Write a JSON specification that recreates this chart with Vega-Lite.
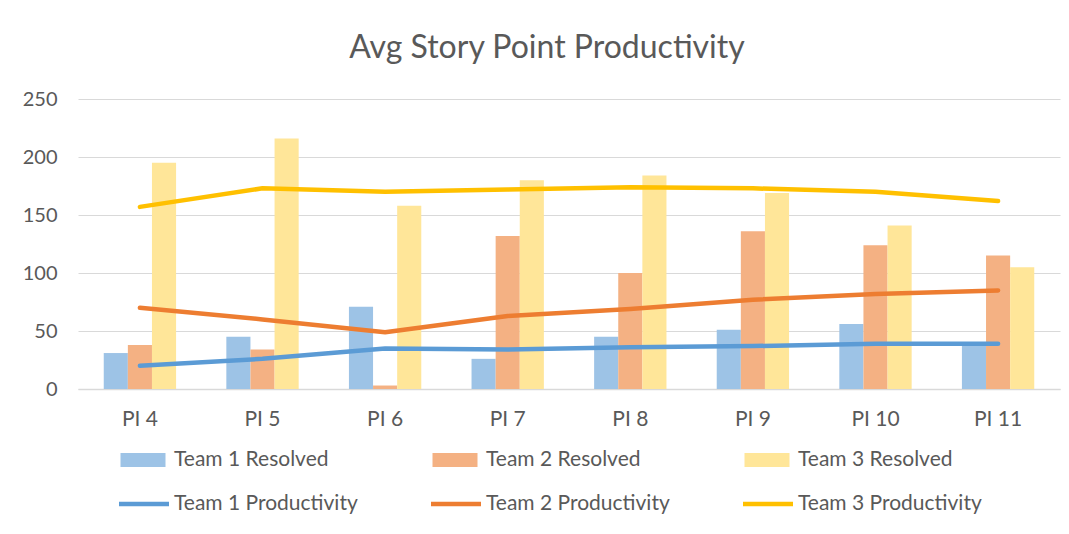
{
  "$schema": "https://vega.github.io/schema/vega-lite/v6.json",
  "width": 982,
  "height": 290,
  "autosize": {"type": "none"},
  "padding": {"left": 78, "top": 99, "right": 9, "bottom": 145},
  "background": "white",
  "title": {
    "text": "Avg Story Point Productivity",
    "font": "Lato",
    "fontSize": 32,
    "fontWeight": "normal",
    "color": "#595959",
    "anchor": "middle",
    "frame": "group",
    "baseline": "alphabetic",
    "offset": -1,
    "dx": -22
  },
  "datasets": {
    "resolved": [
      {"pi": "PI 4", "series": "Team 1 Resolved", "value": 31},
      {"pi": "PI 4", "series": "Team 2 Resolved", "value": 38},
      {"pi": "PI 4", "series": "Team 3 Resolved", "value": 195},
      {"pi": "PI 5", "series": "Team 1 Resolved", "value": 45},
      {"pi": "PI 5", "series": "Team 2 Resolved", "value": 34},
      {"pi": "PI 5", "series": "Team 3 Resolved", "value": 216},
      {"pi": "PI 6", "series": "Team 1 Resolved", "value": 71},
      {"pi": "PI 6", "series": "Team 2 Resolved", "value": 3},
      {"pi": "PI 6", "series": "Team 3 Resolved", "value": 158},
      {"pi": "PI 7", "series": "Team 1 Resolved", "value": 26},
      {"pi": "PI 7", "series": "Team 2 Resolved", "value": 132},
      {"pi": "PI 7", "series": "Team 3 Resolved", "value": 180},
      {"pi": "PI 8", "series": "Team 1 Resolved", "value": 45},
      {"pi": "PI 8", "series": "Team 2 Resolved", "value": 100},
      {"pi": "PI 8", "series": "Team 3 Resolved", "value": 184},
      {"pi": "PI 9", "series": "Team 1 Resolved", "value": 51},
      {"pi": "PI 9", "series": "Team 2 Resolved", "value": 136},
      {"pi": "PI 9", "series": "Team 3 Resolved", "value": 169},
      {"pi": "PI 10", "series": "Team 1 Resolved", "value": 56},
      {"pi": "PI 10", "series": "Team 2 Resolved", "value": 124},
      {"pi": "PI 10", "series": "Team 3 Resolved", "value": 141},
      {"pi": "PI 11", "series": "Team 1 Resolved", "value": 38},
      {"pi": "PI 11", "series": "Team 2 Resolved", "value": 115},
      {"pi": "PI 11", "series": "Team 3 Resolved", "value": 105}
    ],
    "productivity": [
      {"pi": "PI 4", "series": "Team 1 Productivity", "value": 20},
      {"pi": "PI 5", "series": "Team 1 Productivity", "value": 26},
      {"pi": "PI 6", "series": "Team 1 Productivity", "value": 35},
      {"pi": "PI 7", "series": "Team 1 Productivity", "value": 34},
      {"pi": "PI 8", "series": "Team 1 Productivity", "value": 36},
      {"pi": "PI 9", "series": "Team 1 Productivity", "value": 37},
      {"pi": "PI 10", "series": "Team 1 Productivity", "value": 39},
      {"pi": "PI 11", "series": "Team 1 Productivity", "value": 39},
      {"pi": "PI 4", "series": "Team 2 Productivity", "value": 70},
      {"pi": "PI 5", "series": "Team 2 Productivity", "value": 60},
      {"pi": "PI 6", "series": "Team 2 Productivity", "value": 49},
      {"pi": "PI 7", "series": "Team 2 Productivity", "value": 63},
      {"pi": "PI 8", "series": "Team 2 Productivity", "value": 69},
      {"pi": "PI 9", "series": "Team 2 Productivity", "value": 77},
      {"pi": "PI 10", "series": "Team 2 Productivity", "value": 82},
      {"pi": "PI 11", "series": "Team 2 Productivity", "value": 85},
      {"pi": "PI 4", "series": "Team 3 Productivity", "value": 157},
      {"pi": "PI 5", "series": "Team 3 Productivity", "value": 173},
      {"pi": "PI 6", "series": "Team 3 Productivity", "value": 170},
      {"pi": "PI 7", "series": "Team 3 Productivity", "value": 172},
      {"pi": "PI 8", "series": "Team 3 Productivity", "value": 174},
      {"pi": "PI 9", "series": "Team 3 Productivity", "value": 173},
      {"pi": "PI 10", "series": "Team 3 Productivity", "value": 170},
      {"pi": "PI 11", "series": "Team 3 Productivity", "value": 162}
    ]
  },
  "config": {
    "view": {"stroke": null},
    "font": "Lato"
  },
  "encoding": {
    "x": {
      "field": "pi",
      "type": "nominal",
      "sort": ["PI 4", "PI 5", "PI 6", "PI 7", "PI 8", "PI 9", "PI 10", "PI 11"],
      "scale": {"paddingInner": 0.41, "paddingOuter": 0.21},
      "axis": {
        "title": null,
        "labelAngle": 0,
        "labelFont": "Lato",
        "labelFontSize": 21,
        "labelColor": "#595959",
        "labelPadding": 19,
        "ticks": false,
        "tickSize": 0,
        "domainColor": "#d9d9d9",
        "domainWidth": 1.5,
        "grid": false
      }
    },
    "y": {
      "field": "value",
      "type": "quantitative",
      "scale": {"domain": [0, 250], "nice": false},
      "axis": {
        "title": null,
        "values": [0, 50, 100, 150, 200, 250],
        "labelFont": "Lato",
        "labelFontSize": 20,
        "labelColor": "#595959",
        "labelPadding": 21,
        "ticks": false,
        "tickSize": 0,
        "domain": false,
        "gridColor": "#d9d9d9",
        "gridWidth": 1.2
      }
    },
    "color": {
      "field": "series",
      "type": "nominal",
      "scale": {
        "domain": ["Team 1 Resolved", "Team 2 Resolved", "Team 3 Resolved", "Team 1 Productivity", "Team 2 Productivity", "Team 3 Productivity"],
        "range": ["#9dc3e6", "#f4b183", "#ffe699", "#5b9bd5", "#ed7d31", "#ffc000"]
      },
      "legend": {
        "title": null,
        "orient": "none",
        "legendX": 41,
        "legendY": 336,
        "direction": "horizontal",
        "columns": 3,
        "columnPadding": 73,
        "rowPadding": 9,
        "labelFont": "Lato",
        "labelFontSize": 21,
        "labelColor": "#595959",
        "labelOffset": 5,
        "labelLimit": 400,
        "symbolSize": 2500,
        "symbolStrokeWidth": 0,
        "encode": {
          "symbols": {
            "update": {
              "shape": {"signal": "test(/Productivity/, datum.value) ? 'M-1,-0.09H1V0.09H-1Z' : 'M-0.94,-0.28H0.86V0.28H-0.94Z'"},
              "fill": {"scale": "color", "field": "value"},
              "strokeWidth": {"value": 0},
              "opacity": {"value": 1}
            }
          }
        }
      }
    }
  },
  "layer": [
    {
      "data": {"name": "resolved"},
      "mark": {"type": "bar"},
      "encoding": {
        "xOffset": {
          "field": "series",
          "type": "nominal",
          "sort": ["Team 1 Resolved", "Team 2 Resolved", "Team 3 Resolved"],
          "scale": {"paddingInner": 0, "paddingOuter": 0}
        }
      }
    },
    {
      "data": {"name": "productivity"},
      "mark": {"type": "line", "strokeWidth": 4.5, "strokeCap": "round", "strokeJoin": "round"},
      "encoding": {}
    }
  ]
}
